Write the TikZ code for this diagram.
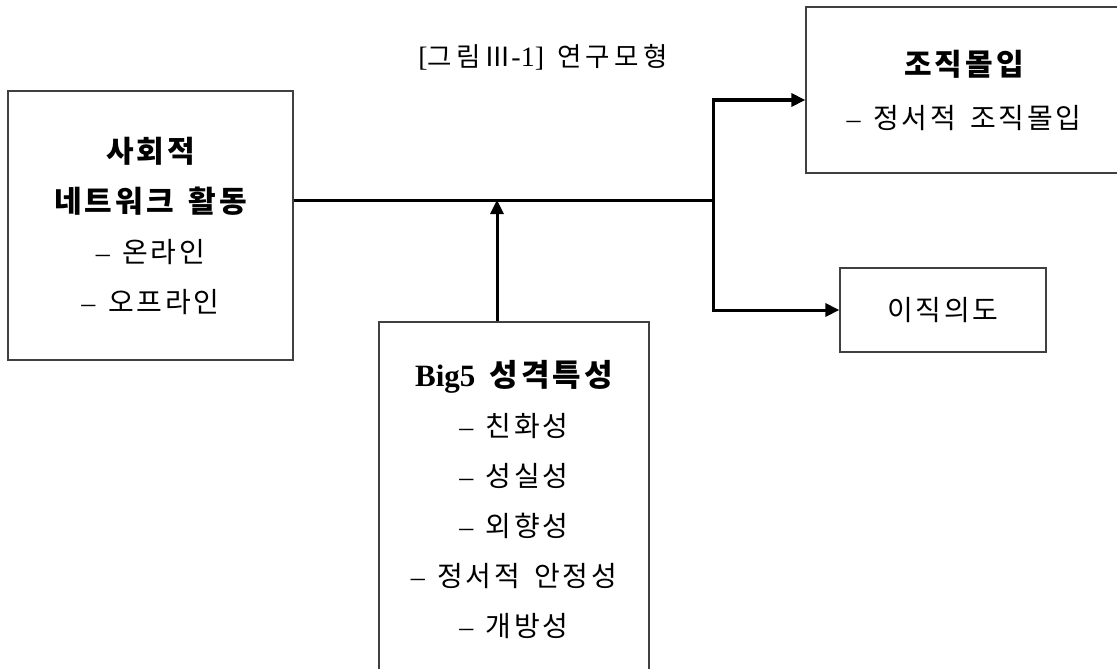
\documentclass[tikz,border=0pt]{standalone}
\usepackage{fontspec}
\setmainfont{Liberation Serif}
\newfontfamily\kr[LetterSpace=10]{Noto Sans CJK KR}
\newfontfamily\krt[LetterSpace=16]{Noto Sans CJK KR}
\usetikzlibrary{arrows.meta}
\newcommand{\dashitem}{{\rmfamily\fontsize{28}{50}\selectfont –}\hspace{0.45em}}
\begin{document}
\begin{tikzpicture}[x=1pt,y=-1pt,
  box/.style={draw=black!75,line width=1.2pt,rectangle,inner sep=0pt,align=center,
    font=\kr\fontsize{28}{50}\selectfont},
  conn/.style={line width=3pt},
  tip/.style={-{Triangle[length=14pt,width=13pt]}}]
\useasboundingbox (0,0) rectangle (1117,669);
\clip (0,0) rectangle (1117,669);

\node[font=\krt\fontsize{26.5}{28}\selectfont] (title) at (543,57)
  {{\rmfamily\fontsize{28}{28}\selectfont[}그림Ⅲ{\rmfamily\fontsize{28}{28}\selectfont -1]}\hspace{0.5em}연구모형};

\node[box,minimum width=285pt,minimum height=269pt] (soc) at (150.5,225.5)
  {{\bfseries\fontsize{30}{50}\selectfont 사회적}\\
   {\bfseries\fontsize{30}{50}\selectfont 네트워크\hspace{0.5em}활동}\\
   \dashitem 온라인\\
   \dashitem 오프라인};

\node[box,minimum width=316pt,minimum height=166pt] (org) at (964,90)
  {{\bfseries\fontsize{30}{50}\selectfont 조직몰입}\\[3pt]
   \dashitem 정서적\hspace{0.5em}조직몰입};

\node[box,minimum width=206pt,minimum height=84pt] (tur) at (943,310) {이직의도};

\node[box,minimum width=270pt,minimum height=356pt] (big) at (514,500)
  {{\bfseries\fontsize{31}{50}\selectfont{\rmfamily Big5}\hspace{0.45em}성격특성}\\
   \dashitem 친화성\\
   \dashitem 성실성\\
   \dashitem 외향성\\
   \dashitem 정서적\hspace{0.5em}안정성\\
   \dashitem 개방성};

\coordinate (j) at (713,200);
\draw[conn] (soc.east |- j) -- (j);
\draw[conn,tip] (j) |- ([yshift=-10pt]org.west);
\draw[conn,tip] (j) |- (tur.west);
\draw[conn,tip] ([xshift=-17pt]big.north) -- ([xshift=-17pt]big.north |- j);
\end{tikzpicture}
\end{document}
